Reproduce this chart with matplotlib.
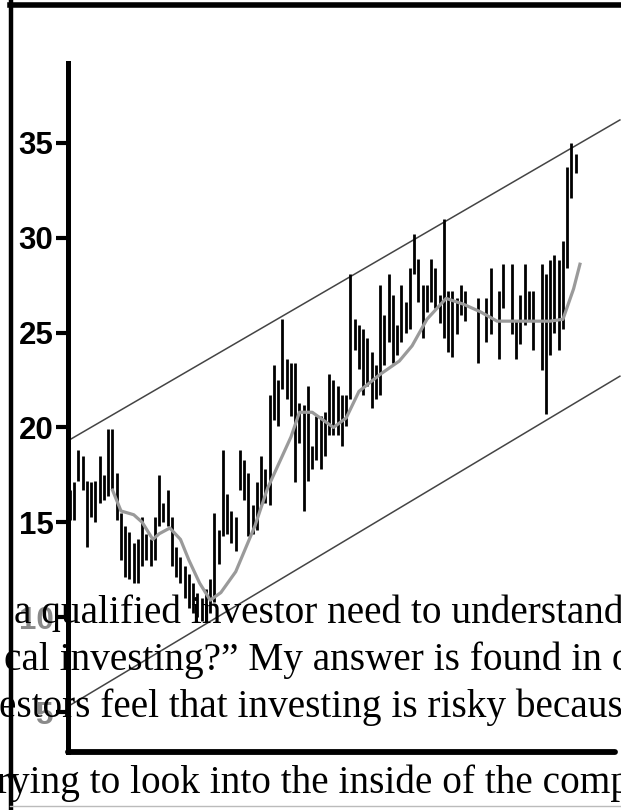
import matplotlib
matplotlib.use("Agg")
import matplotlib.pyplot as plt

# trading days that have a bar (a few later days are missing in the picture)
days = list(range(94)) + [96, 98, 99, 101, 102, 104, 105, 106, 107, 108,
                          109, 111, 112, 113, 114, 115, 116, 117, 118, 119]

# daily high / low of the price bars
highs = [16.7, 17.1, 18.8, 18.5, 17.2, 17.1, 17.2, 18.5, 17.5, 19.9,
         19.9, 17.6, 15.5, 14.8, 14.5, 13.9, 14.1, 15.3, 14.4, 14.1,
         15.3, 17.5, 16.0, 16.7, 15.3, 13.7, 13.2, 12.7, 12.3, 11.8,
         11.3, 11.0, 11.5, 12.0, 15.5, 14.6, 18.8, 16.5, 15.6, 15.3,
         18.8, 18.3, 17.6, 15.9, 17.1, 18.5, 17.8, 21.7, 23.3, 22.5,
         25.7, 23.6, 23.4, 23.4, 21.3, 21.2, 22.2, 19.0, 20.6, 20.6,
         20.8, 22.8, 22.5, 22.2, 21.7, 21.7, 28.1, 25.7, 25.4, 25.2,
         24.7, 24.0, 23.3, 27.5, 25.9, 28.1, 27.0, 25.4, 27.5, 26.6,
         28.4, 30.2, 28.9, 27.5, 27.5, 28.9, 28.4, 27.0, 31.0, 27.2,
         27.2, 26.8, 27.5, 27.2, 26.8, 26.8, 28.4, 27.2, 28.6, 28.6,
         25.6, 27.0, 28.6, 27.2, 27.2, 28.6, 28.1, 28.8, 29.1, 28.8,
         29.8, 33.7, 35.0, 34.4]
lows = [15.1, 15.1, 17.2, 16.7, 13.7, 15.3, 15.0, 16.0, 16.2, 16.4,
        16.7, 15.1, 13.0, 12.1, 12.0, 11.8, 11.8, 12.7, 13.0, 12.7,
        13.0, 14.8, 15.0, 14.8, 12.7, 12.1, 11.8, 11.0, 10.5, 10.2,
        10.0, 9.8, 10.3, 10.2, 10.8, 12.8, 14.3, 14.4, 13.9, 13.5,
        16.7, 16.2, 14.3, 14.4, 14.6, 15.9, 16.0, 15.9, 20.4, 20.1,
        22.0, 21.5, 20.6, 17.1, 19.2, 15.6, 17.2, 17.8, 18.3, 17.8,
        18.5, 19.6, 19.6, 19.6, 19.0, 20.1, 21.5, 24.1, 23.1, 21.7,
        22.2, 21.0, 21.5, 21.7, 23.3, 24.5, 23.4, 23.8, 24.5, 25.0,
        25.2, 28.1, 26.6, 24.7, 26.1, 26.6, 26.3, 25.5, 24.7, 24.0,
        23.7, 24.9, 25.9, 25.6, 23.4, 24.5, 24.9, 23.6, 26.3, 24.9,
        23.6, 24.4, 25.4, 25.6, 24.1, 23.0, 20.7, 23.8, 25.0, 24.1,
        25.2, 28.4, 32.1, 33.4]

# moving average (grey curve)
ma_day = [10, 12, 15, 17, 19.5, 21, 23.5, 26, 28, 30.5, 33, 35.5, 39, 43.5,
          46.5, 52, 54, 57, 62, 65, 68, 73, 77.5, 80.5, 84, 88.5, 92.5,
          96.5, 100.5, 108, 113, 116, 118.5, 120]
ma_val = [16.7, 15.6, 15.4, 15.0, 14.1, 14.4, 14.7, 14.1, 13.0, 11.8, 10.9,
          11.3, 12.4, 14.8, 16.8, 19.5, 20.8, 20.8, 20.0, 20.5, 21.9, 22.8,
          23.5, 24.3, 25.7, 26.8, 26.5, 26.1, 25.6, 25.6, 25.6, 25.7, 27.3,
          28.6]

# trend channel
chan_day = [-0.47, 129.4]
chan_upper = [19.3, 36.2]
chan_lower = [5.3, 22.7]

yticks = [5, 10, 15, 20, 25, 30, 35]

text_lines = [
    "a qualified investor need to understand",
    "cal investing?\u201d My answer is found in our",
    "estors feel that investing is risky because",
    "rying to look into the inside of the company",
]

fig = plt.figure(figsize=(6.21, 8.10), dpi=100)
ax = fig.add_axes([0.1095, 0.0716, 0.8805, 0.8506])

ax.vlines(days, lows, highs, colors="black", linewidth=2.0, zorder=3)
ax.plot(ma_day, ma_val, color="#9a9a9a", linewidth=2.3, zorder=4)
ax.plot(chan_day, chan_upper, color="#444444", linewidth=1.1, clip_on=False, zorder=2)
ax.plot(chan_day, chan_lower, color="#444444", linewidth=1.1, clip_on=False, zorder=2)

ax.set_xlim(-0.47, 128.2)
ax.set_ylim(2.9, 39.2)
ax.set_xticks([])
ax.set_yticks(yticks)
ax.set_yticklabels([str(t) for t in yticks], fontsize=22.5, fontweight="bold",
                   family="Liberation Sans")
for lbl, t in zip(ax.get_yticklabels(), yticks):
    if t <= 10:
        lbl.set_color("#8a8a8a")
ax.tick_params(axis="y", length=9, width=3, pad=1.5, color="black")
for s in ["top", "right"]:
    ax.spines[s].set_visible(False)
ax.spines["left"].set_linewidth(3.6)
ax.spines["bottom"].set_linewidth(4.2)
ax.spines["bottom"].set_capstyle("round")

# outer frame of the scanned page
fig.add_artist(plt.Line2D([0.018, 0.018], [0, 1], color="black", linewidth=3.2))
fig.add_artist(plt.Line2D([0.016, 1], [0.994, 0.994], color="black", linewidth=4.0))
fig.add_artist(plt.Line2D([0.016, 1], [0.005, 0.005], color="#bbbbbb", linewidth=1.0))

baselines = [623, 670, 717, 793]
starts = [14, 4, -1, -3]
for s, yb, x0 in zip(text_lines, baselines, starts):
    fig.text(x0 / 621, 1 - yb / 810, s, fontsize=28.3, family="Liberation Serif",
             color="black", va="baseline", ha="left", zorder=10)

fig.savefig("out.png", dpi=100)
